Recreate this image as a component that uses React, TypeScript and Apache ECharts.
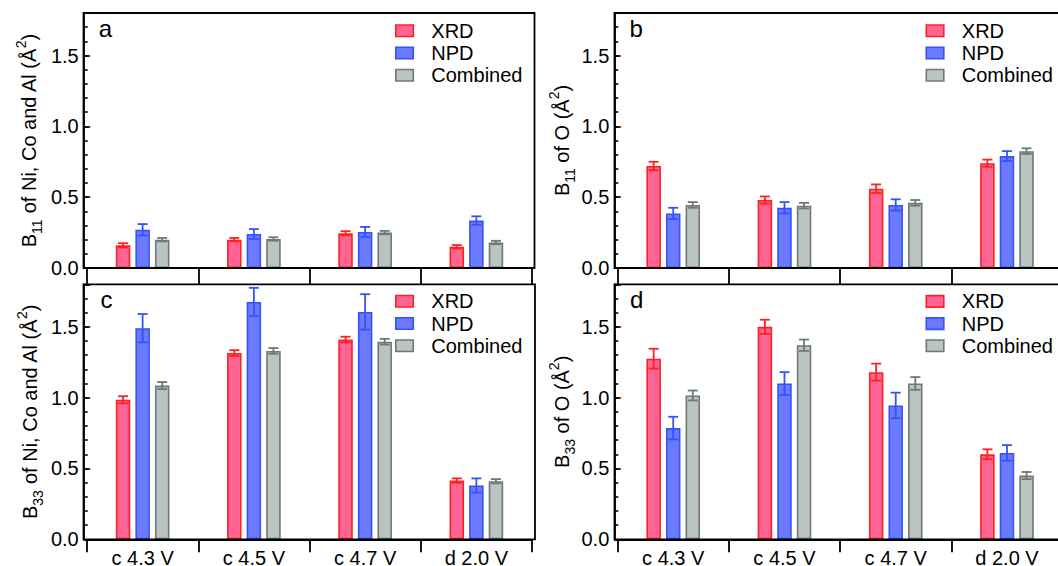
import React, { useEffect, useRef } from 'react';
import * as echarts from 'echarts';

// ---------- data ----------
const categories = ['c 4.3 V', 'c 4.5 V', 'c 4.7 V', 'd 2.0 V'];
const seriesNames = ['XRD', 'NPD', 'Combined'];
const yTickLabels = ['0.0', '0.5', '1.0', '1.5'];

// panel a: B11 of Ni, Co and Al
const aXRD = [0.16, 0.2, 0.245, 0.15];
const aXRDErr = [0.015, 0.012, 0.015, 0.012];
const aNPD = [0.27, 0.24, 0.255, 0.335];
const aNPDErr = [0.04, 0.035, 0.035, 0.03];
const aComb = [0.2, 0.205, 0.25, 0.18];
const aCombErr = [0.012, 0.012, 0.012, 0.012];

// panel b: B11 of O
const bXRD = [0.72, 0.48, 0.56, 0.74];
const bXRDErr = [0.03, 0.025, 0.03, 0.025];
const bNPD = [0.385, 0.425, 0.445, 0.79];
const bNPDErr = [0.04, 0.04, 0.04, 0.035];
const bComb = [0.445, 0.44, 0.46, 0.825];
const bCombErr = [0.02, 0.02, 0.02, 0.02];

// panel c: B33 of Ni, Co and Al
const cXRD = [0.985, 1.315, 1.41, 0.415];
const cXRDErr = [0.025, 0.02, 0.02, 0.015];
const cNPD = [1.49, 1.675, 1.605, 0.38];
const cNPDErr = [0.1, 0.1, 0.125, 0.05];
const cComb = [1.085, 1.33, 1.395, 0.41];
const cCombErr = [0.025, 0.02, 0.02, 0.015];

// panel d: B33 of O
const dXRD = [1.275, 1.5, 1.18, 0.6];
const dXRDErr = [0.07, 0.05, 0.06, 0.035];
const dNPD = [0.785, 1.1, 0.945, 0.61];
const dNPDErr = [0.08, 0.08, 0.09, 0.055];
const dComb = [1.015, 1.37, 1.1, 0.45];
const dCombErr = [0.035, 0.04, 0.045, 0.025];

// ---------- styles ----------
const FONT = '"Liberation Sans", Arial, Helvetica, sans-serif';
const fills = ['#FF6494', '#6B7AFF', '#BAC4C2'];
const borders = ['#FF2020', '#3352FF', '#6D7877'];
const BAR_W = 14.5;
const BAR_GAP = 0.35;
const STEP = BAR_W * (1 + BAR_GAP);

const richName = {
  b: { fontSize: 20, lineHeight: 30, verticalAlign: 'middle', fontFamily: FONT, color: '#000' },
  sub: { fontSize: 14, lineHeight: 22, verticalAlign: 'bottom', fontFamily: FONT, color: '#000' },
  sup: { fontSize: 14, lineHeight: 13, verticalAlign: 'top', fontFamily: FONT, color: '#000' },
};

const panels = [
  {
    letter: 'a', gridLeft: 87, gridTop: 13, frame: [83.5, 13, 451, 255], bottom: false,
    name: '{b|B}{sub|11}{b| of Ni, Co and Al (Å}{sup|2}{b|)}', nameGap: 40,
    legend: [395, 19.8], letterPos: [98.7, 28.7],
    values: [aXRD, aNPD, aComb], errors: [aXRDErr, aNPDErr, aCombErr],
  },
  {
    letter: 'b', gridLeft: 617.6, gridTop: 13, frame: [614.5, 13, 460, 255], bottom: false,
    name: '{b|B}{sub|11}{b| of O (Å}{sup|2}{b|)}', nameGap: 37.5,
    legend: [925.5, 19.8], letterPos: [629.5, 28.4],
    values: [bXRD, bNPD, bComb], errors: [bXRDErr, bNPDErr, bCombErr],
  },
  {
    letter: 'c', gridLeft: 87, gridTop: 284.3, frame: [83.5, 284.3, 451.5, 255], bottom: true,
    name: '{b|B}{sub|33}{b| of Ni, Co and Al (Å}{sup|2}{b|)}', nameGap: 39,
    legend: [395, 290.3], letterPos: [100.4, 299.7],
    values: [cXRD, cNPD, cComb], errors: [cXRDErr, cNPDErr, cCombErr],
  },
  {
    letter: 'd', gridLeft: 617.6, gridTop: 284.3, frame: [614.5, 284.3, 460, 255], bottom: true,
    name: '{b|B}{sub|33}{b| of O (Å}{sup|2}{b|)}', nameGap: 37,
    legend: [925.5, 290.4], letterPos: [630, 299.4],
    values: [dXRD, dNPD, dComb], errors: [dXRDErr, dNPDErr, dCombErr],
  },
];

function buildOption() {
  const grid = panels.map((p) => ({
    left: p.gridLeft, top: p.gridTop, width: 445, height: 255,
    outerBoundsMode: 'none', containLabel: false,
  }));

  const xAxis = panels.map((p, i) => ({
    type: 'category', gridIndex: i, data: categories, boundaryGap: true,
    axisLine: { show: true, lineStyle: { color: '#000', width: 1.8 } },
    axisTick: { show: true, inside: false, length: p.bottom ? 13 : 16, alignWithLabel: false, lineStyle: { color: '#000', width: 1.8 } },
    axisLabel: p.bottom
      ? { show: true, color: '#000', fontSize: 20, fontFamily: FONT, margin: 9 }
      : { show: false },
    splitLine: { show: false },
  }));

  const yAxis: any[] = [];
  panels.forEach((p, i) => {
    yAxis.push({
      type: 'value', gridIndex: i, position: 'left', offset: 3.3, min: 0, max: 1.8, interval: 0.1,
      axisLine: { show: true, lineStyle: { color: '#000', width: 1.8 } },
      axisTick: { show: true, inside: true, length: 4, lineStyle: { color: '#000', width: 1.6 } },
      axisLabel: { show: false },
      splitLine: { show: false },
    });
    yAxis.push({
      type: 'value', gridIndex: i, position: 'left', offset: 3.3, min: 0, max: 1.8, interval: 0.5,
      axisLine: { show: false },
      axisTick: { show: true, inside: true, length: 6.5, lineStyle: { color: '#000', width: 1.6 } },
      axisLabel: {
        show: true, color: '#000', fontSize: 20, fontFamily: FONT, margin: 5,
        formatter: (v: number) => {
          const s = v.toFixed(1);
          return yTickLabels.includes(s) ? s : '';
        },
      },
      splitLine: { show: false },
      name: p.name, nameLocation: 'middle', nameRotate: 90, nameGap: p.nameGap,
      nameTextStyle: { color: '#000', fontSize: 20, fontFamily: FONT, rich: richName },
    });
  });

  const series: any[] = [];
  panels.forEach((p, i) => {
    for (let k = 0; k < 3; k++) {
      series.push({
        type: 'bar', name: seriesNames[k], xAxisIndex: i, yAxisIndex: 2 * i,
        data: p.values[k], barWidth: BAR_W, barGap: `${BAR_GAP * 100}%`,
        itemStyle: { color: fills[k], borderColor: borders[k], borderWidth: 1.6 },
        silent: true,
      });
    }
    for (let k = 0; k < 3; k++) {
      const offset = (k - 1) * STEP;
      const stroke = borders[k];
      series.push({
        type: 'custom', xAxisIndex: i, yAxisIndex: 2 * i, silent: true, z: 5,
        data: p.values[k].map((v, j) => [j, v, p.errors[k][j]]),
        encode: { x: 0, y: 1 },
        renderItem: (params: any, api: any) => {
          const c = api.value(0);
          const v = api.value(1);
          const e = api.value(2);
          const hi = api.coord([c, v + e]);
          const lo = api.coord([c, v - e]);
          const x = hi[0] + offset;
          const style = { stroke, lineWidth: 1.8, fill: 'none' };
          return {
            type: 'group',
            children: [
              { type: 'line', shape: { x1: x, y1: hi[1], x2: x, y2: lo[1] }, style },
              { type: 'line', shape: { x1: x - 5, y1: hi[1], x2: x + 5, y2: hi[1] }, style },
              { type: 'line', shape: { x1: x - 5, y1: lo[1], x2: x + 5, y2: lo[1] }, style },
            ],
          };
        },
      });
    }
  });

  const legend = panels.map((p) => ({
    orient: 'vertical', left: p.legend[0], top: p.legend[1], padding: 0, itemGap: 0.2,
    itemWidth: 17.5, itemHeight: 11.5, icon: 'rect', selectedMode: false,
    textStyle: { color: '#000', fontSize: 20, fontFamily: FONT, lineHeight: 22, padding: [0, 0, 0, 13] },
    data: seriesNames.map((n, k) => ({
      name: n, itemStyle: { color: fills[k], borderColor: borders[k], borderWidth: 1.6 },
    })),
  }));

  const graphic: any[] = [];
  panels.forEach((p) => {
    graphic.push({
      type: 'rect', silent: true, z: 10,
      shape: { x: p.frame[0], y: p.frame[1], width: p.frame[2], height: p.frame[3] },
      style: { fill: 'none', stroke: '#000', lineWidth: 1.8 },
    });
    graphic.push({
      type: 'text', x: p.letterPos[0], y: p.letterPos[1], silent: true, z: 10,
      style: { text: p.letter, font: `24px ${FONT}`, fill: '#000', verticalAlign: 'middle', align: 'left' },
    });
  });

  return {
    animation: false,
    backgroundColor: '#fff',
    grid, xAxis, yAxis, series, legend, graphic,
  };
}

export default function App() {
  const ref = useRef<HTMLDivElement>(null);
  useEffect(() => {
    if (!ref.current) return;
    const chart = echarts.init(ref.current, undefined, { renderer: 'svg' });
    chart.setOption(buildOption() as any);
    return () => chart.dispose();
  }, []);
  return (
    <div
      ref={ref}
      style={{ position: 'absolute', left: 0, top: 0, width: 1058, height: 566, background: '#fff' }}
    />
  );
}
